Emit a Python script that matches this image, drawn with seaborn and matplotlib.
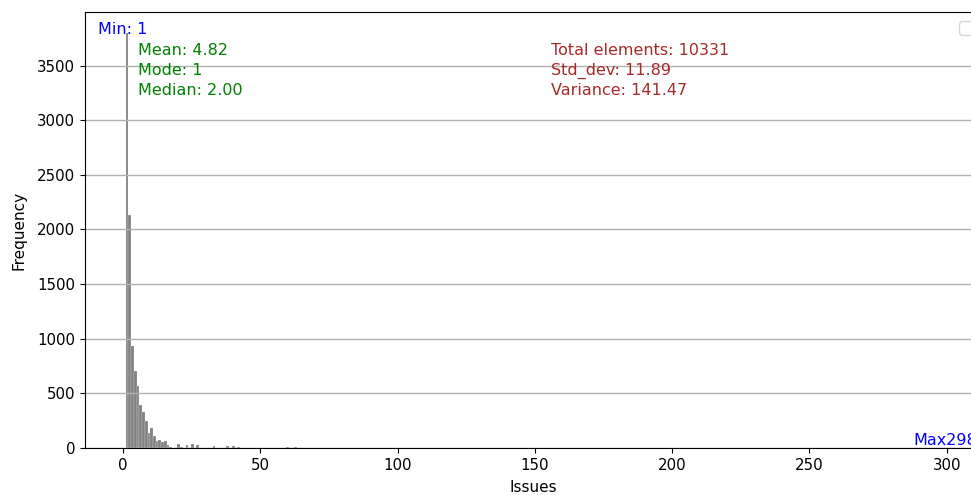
import matplotlib
matplotlib.use("Agg")
import matplotlib.pyplot as plt
import seaborn as sns
import pandas as pd

# Issue counts (x) and how many elements have that count (frequency)
issue_values = [1, 2, 3, 4, 5, 6, 7, 8, 9, 10, 11, 12, 13, 14, 15, 16, 17,
                20, 21, 23, 25, 27, 33, 38, 40, 42, 60, 63, 298]
issue_counts = [3800, 2130, 935, 705, 565, 395, 325, 250, 140, 183, 110, 64, 73,
                55, 64, 27, 9, 37, 9, 27, 37, 27, 18, 18, 18, 9, 9, 9, 1]

stats_left = ["Mean: 4.82", "Mode: 1", "Median: 2.00"]
stats_right = ["Total elements: 10331", "Std_dev: 11.89", "Variance: 141.47"]
min_label = "Min: 1"
max_label = "Max298"

df = pd.DataFrame({"Issues": issue_values, "count": issue_counts})

fig = plt.figure(figsize=(9.71, 4.95), dpi=100)
ax = fig.add_axes([85 / 971, 47 / 495, 897 / 971, 436 / 495])

sns.histplot(data=df, x="Issues", weights="count", bins=300, ax=ax,
             color="#808080", alpha=1, edgecolor="white", linewidth=0.15)

ax.grid(axis="y", color="#b0b0b0", linewidth=1.0)
ax.tick_params(labelsize=10.8)
ax.set_xlabel("Issues", fontsize=11, labelpad=5)
ax.set_ylabel("Frequency", fontsize=11, labelpad=8)

min_v = min(issue_values)
max_v = max(issue_values)
top = max(issue_counts)

fs = 11.5
ax.text(min_v - 10, top * 0.997, min_label, color="blue", fontsize=fs)
ax.text(max_v - 10, 30, max_label, color="blue", fontsize=fs)
for i, s in enumerate(stats_left):
    ax.text(5.3, 3595 - i * 180, s, color="green", fontsize=fs)
for i, s in enumerate(stats_right):
    ax.text(156, 3595 - i * 180, s, color="brown", fontsize=fs)

ax.legend(handles=[], labels=[], loc="upper right", fontsize=13)

fig.savefig("out.png", dpi=100)
